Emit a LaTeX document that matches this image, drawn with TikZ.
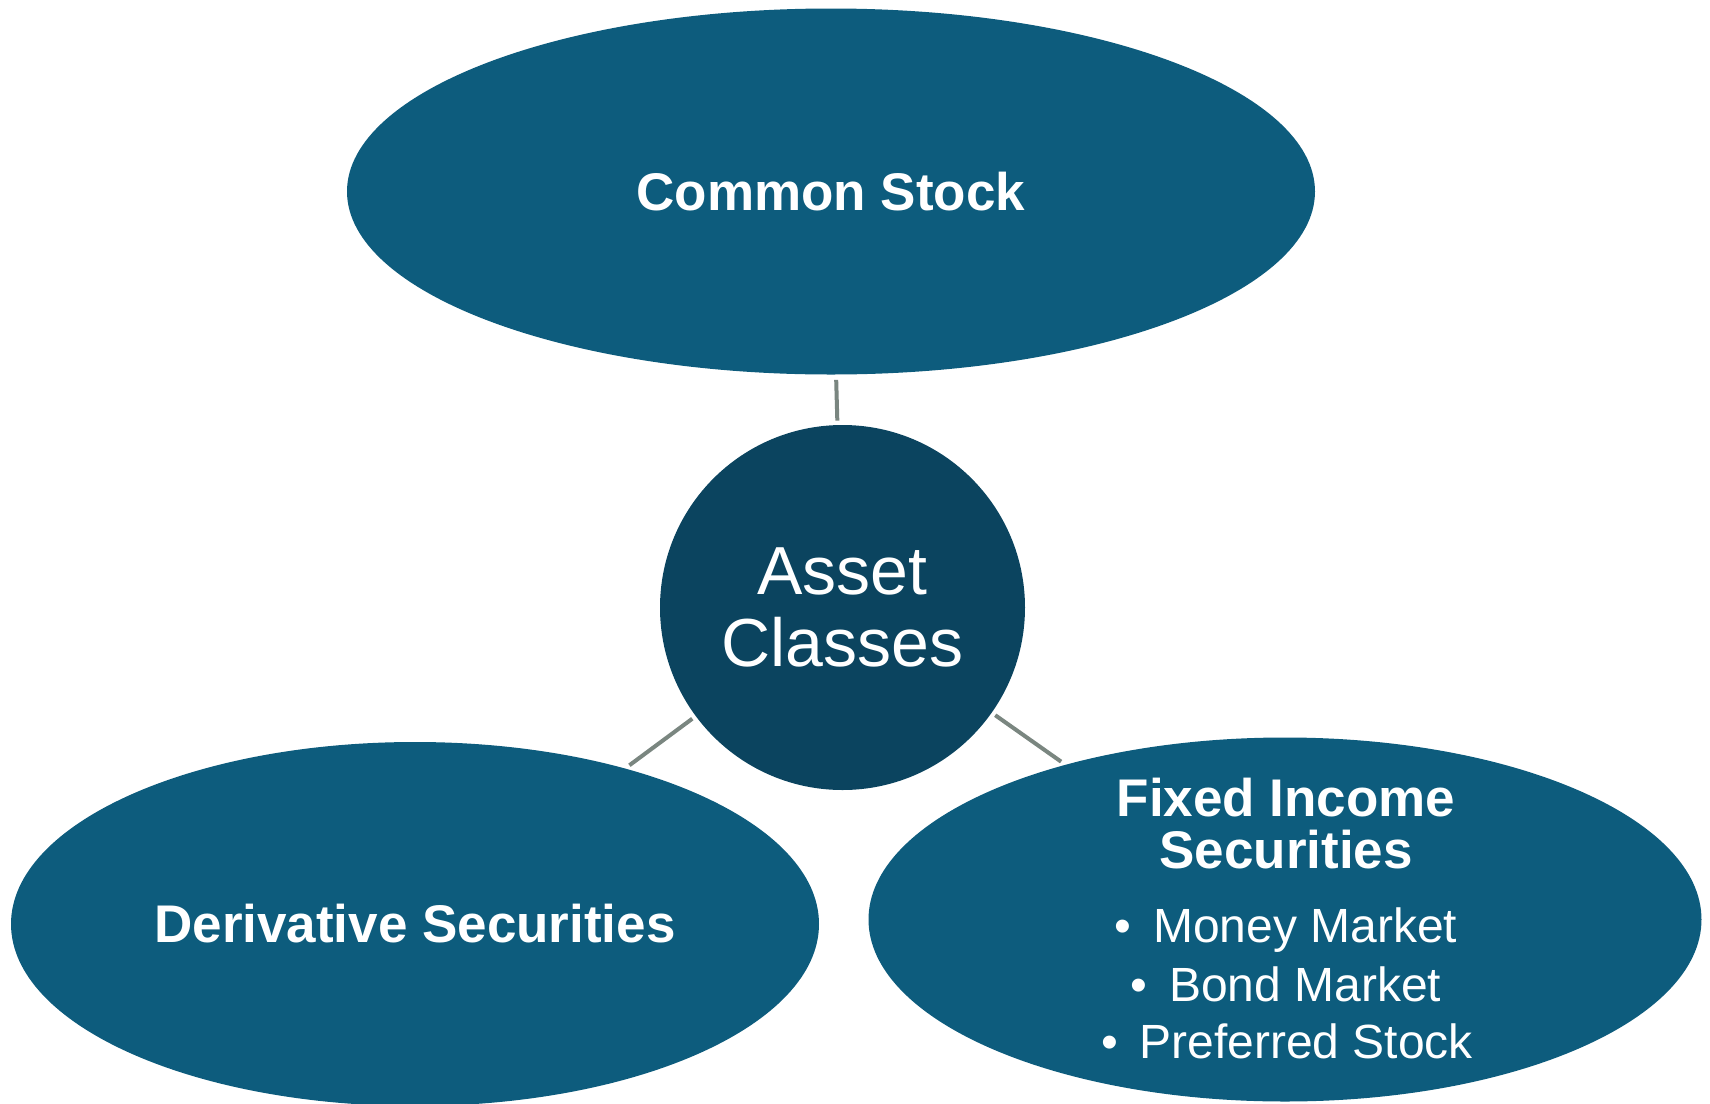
\documentclass[tikz,border=0pt]{standalone}
\usepackage{fontspec}
\setmainfont{Liberation Sans}
\usetikzlibrary{shapes.geometric}
\definecolor{ellfill}{RGB}{13,92,125}
\definecolor{circfill}{RGB}{11,68,95}
\definecolor{linkgray}{RGB}{122,134,128}
\tikzset{
  ell/.style={ellipse, fill=ellfill, draw=none, inner sep=0pt, text=white, align=center},
  hub/.style={circle, fill=circfill, draw=none, inner sep=0pt, text=white, align=center,
    minimum size=182.5pt, font=\fontsize{34pt}{36pt}\selectfont},
  head/.style={text=white, font=\fontsize{26.5pt}{28pt}\selectfont\bfseries, inner sep=0pt},
  item/.style={text=white, font=\fontsize{24pt}{28pt}\selectfont, inner sep=0pt, anchor=base},
  link/.style={draw=linkgray, line width=2pt, shorten <=2pt, shorten >=2.5pt}
}
\begin{document}
\begin{tikzpicture}[x=0.5pt, y=-0.5pt]
\useasboundingbox (0,0) rectangle (1710,1104);
\node[ell, minimum width=484pt, minimum height=183pt, head] (cs) at (831,191.5) {Common Stock};
\node[ell, minimum width=404pt, minimum height=182pt, head] (ds) at (415,924) {Derivative Securities};
\node[ell, minimum width=416.5pt, minimum height=182pt] (fi) at (1285,919.5) {};
\node[hub] (ac) at (842.5,607.5) {Asset\\Classes};
\node[head, anchor=base] (fi1) at (1286,816) {Fixed Income};
\node[head, anchor=base] (fi2) at (1286,868) {Securities};
\node[item] (b1) at (1286,942) {\textbullet\hspace{0.45em}Money Market};
\node[item] (b2) at (1286,1001) {\textbullet\hspace{0.45em}Bond Market};
\node[item] (b3) at (1287,1058) {\textbullet\hspace{0.45em}Preferred Stock};
\draw[link] (ac) -- (cs);
\draw[link] (ac) -- (ds);
\draw[link] (ac) -- (fi);
\end{tikzpicture}
\end{document}
